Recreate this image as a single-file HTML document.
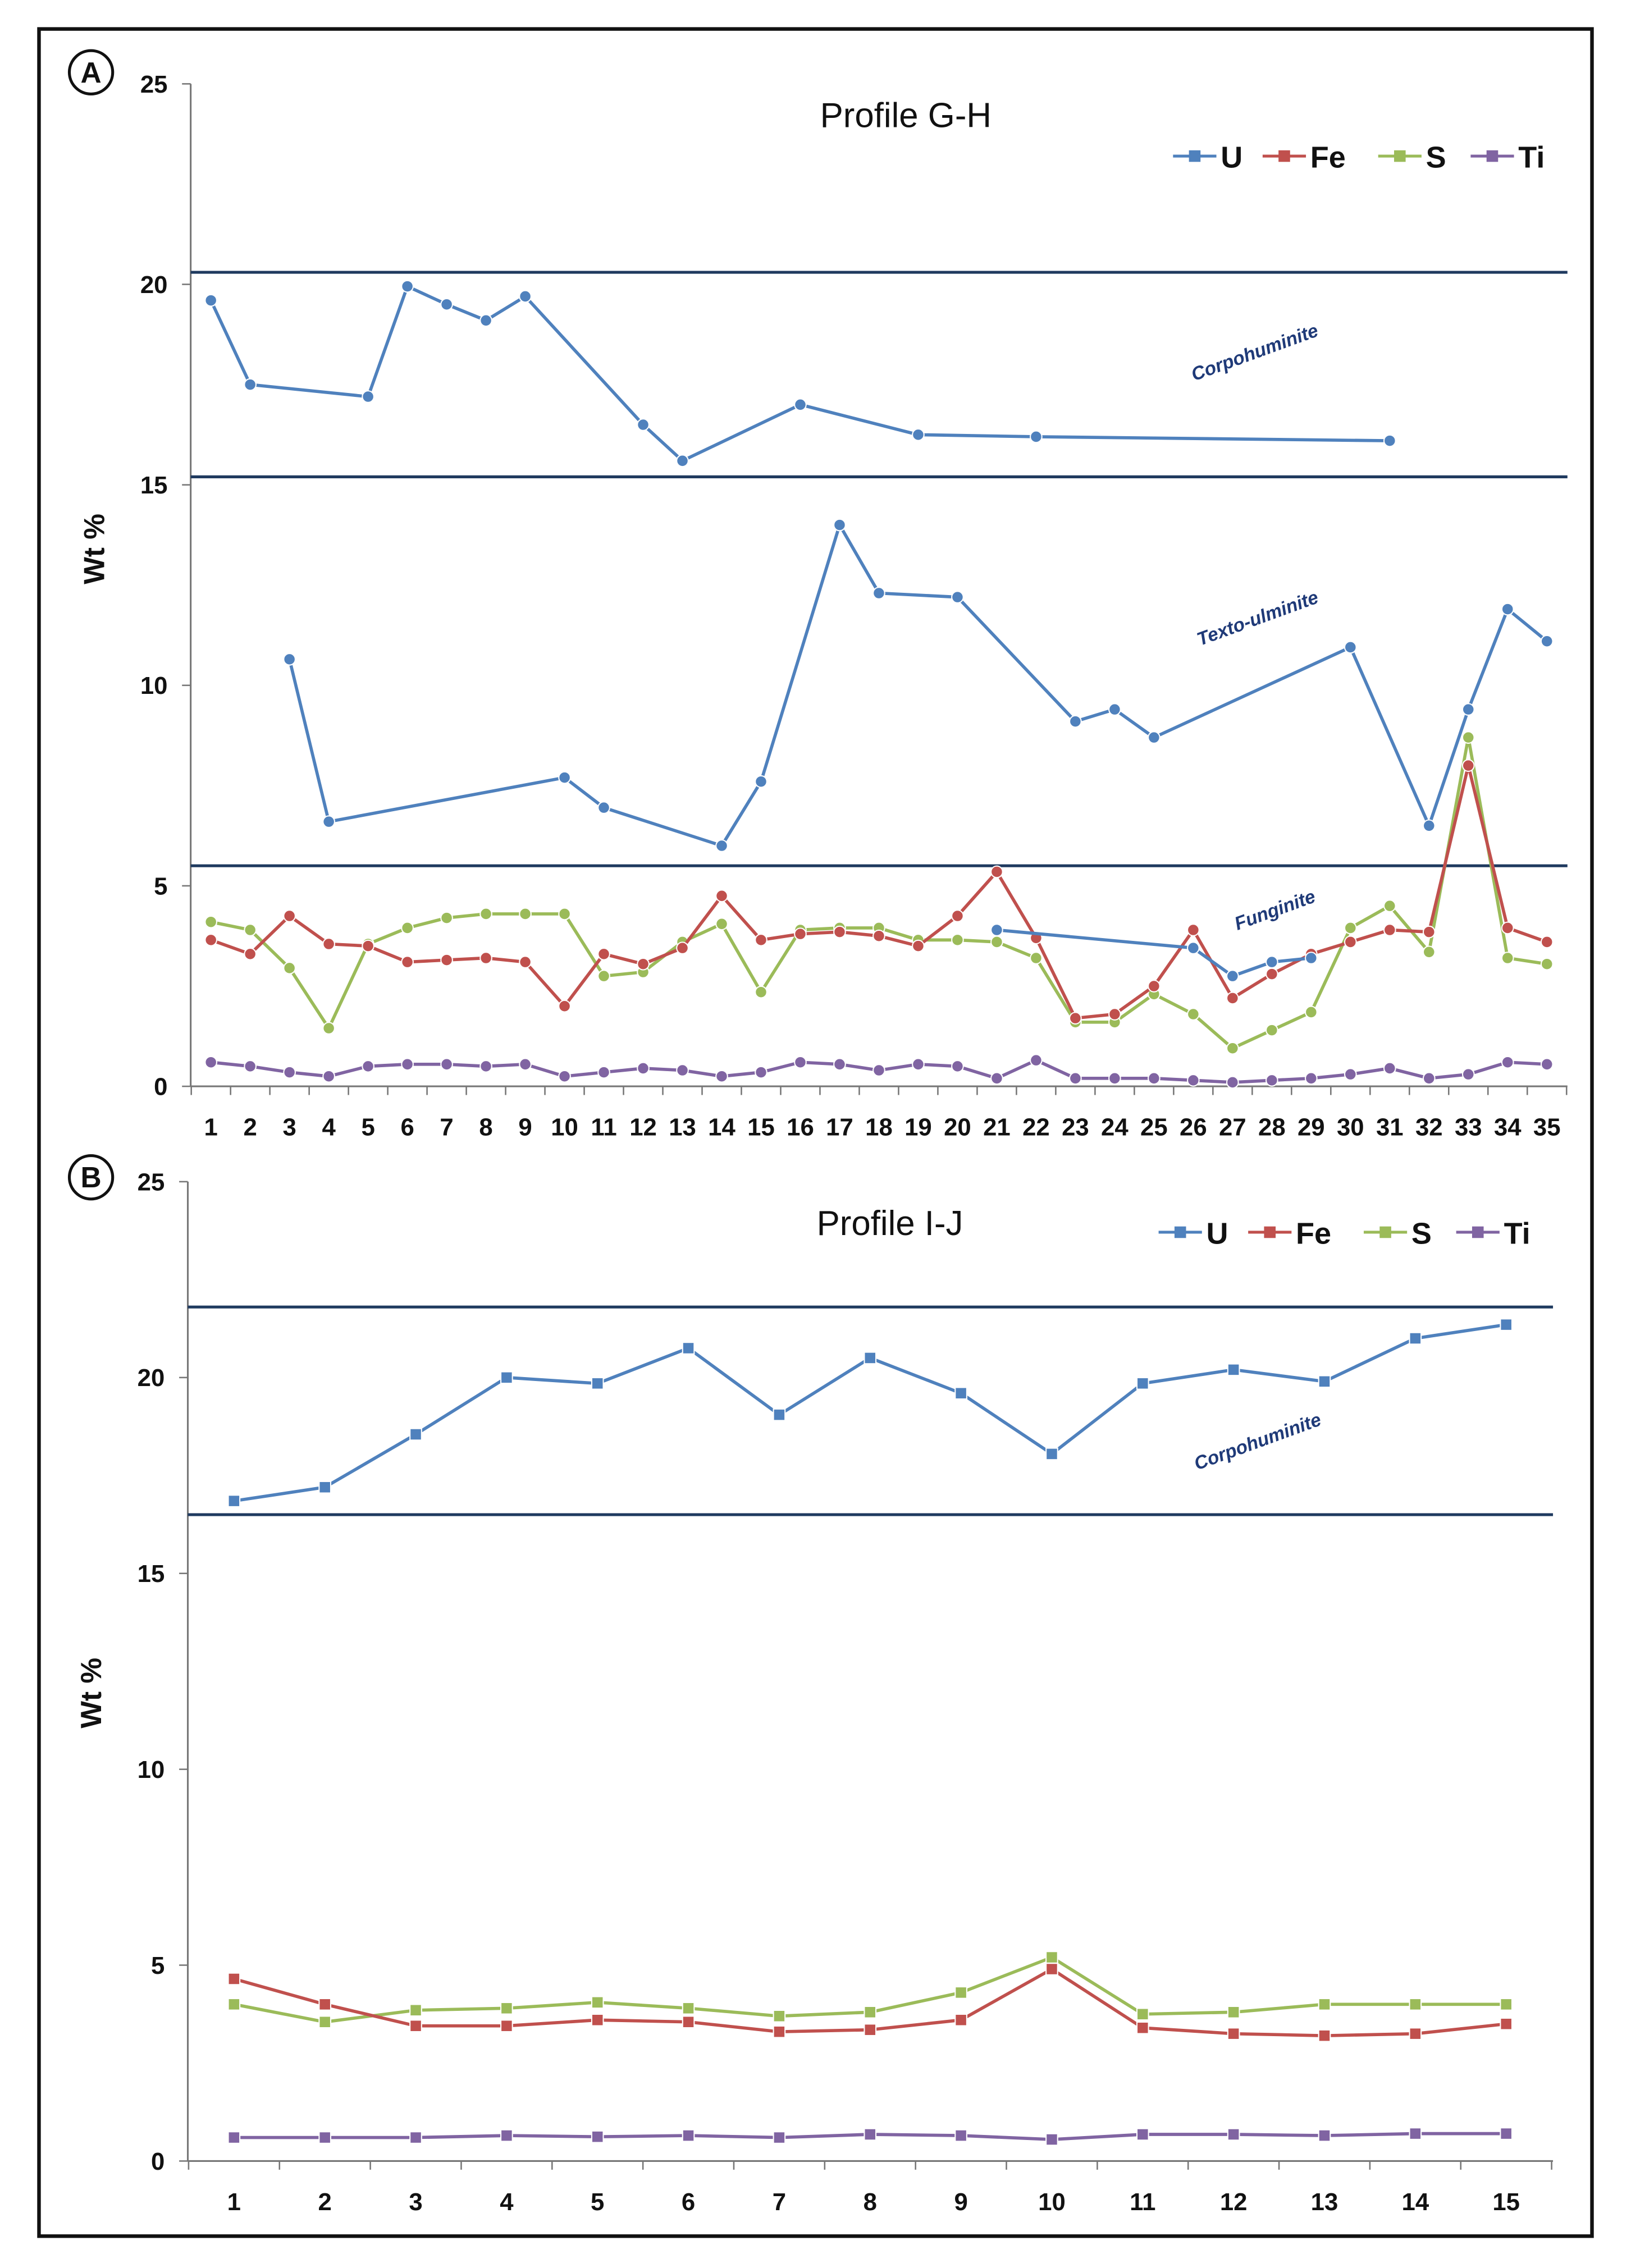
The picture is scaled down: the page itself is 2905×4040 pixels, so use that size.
<!DOCTYPE html>
<html><head><meta charset="utf-8"><style>
html,body{margin:0;padding:0;background:#fff;width:2905px;height:4040px;overflow:hidden}
svg{display:block}
text{font-family:"Liberation Sans",sans-serif}
</style></head><body>
<svg id="s" width="2905" height="4040" viewBox="0 0 1129 1570" xmlns="http://www.w3.org/2000/svg">
<rect x="27" y="20" width="1075" height="1528" fill="#fff" stroke="#111" stroke-width="2.5"/>
</svg>
<script>
const catsA=[1,2,3,4,5,6,7,8,9,10,11,12,13,14,15,16,17,18,19,20,21,22,23,24,25,26,27,28,29,30,31,32,33,34,35];
const uCorpoA=[[1,19.6],[2,17.5],[5,17.2],[6,19.95],[7,19.5],[8,19.1],[9,19.7],[12,16.5],[13,15.6],[16,17.0],[19,16.25],[22,16.2],[31,16.1]];
const uTextoA=[[3,10.65],[4,6.6],[10,7.7],[11,6.95],[14,6.0],[15,7.6],[17,14.0],[18,12.3],[20,12.2],[23,9.1],[24,9.4],[25,8.7],[30,10.95],[32,6.5],[33,9.4],[34,11.9],[35,11.1]];
const uFungA=[[21,3.9],[26,3.45],[27,2.75],[28,3.1],[29,3.2]];
const feA=[3.65,3.3,4.25,3.55,3.5,3.1,3.15,3.2,3.1,2.0,3.3,3.05,3.45,4.75,3.65,3.8,3.85,3.75,3.5,4.25,5.35,3.7,1.7,1.8,2.5,3.9,2.2,2.8,3.3,3.6,3.9,3.85,8.0,3.95,3.6];
const sA=[4.1,3.9,2.95,1.45,3.55,3.95,4.2,4.3,4.3,4.3,2.75,2.85,3.6,4.05,2.35,3.9,3.95,3.95,3.65,3.65,3.6,3.2,1.6,1.6,2.3,1.8,0.95,1.4,1.85,3.95,4.5,3.35,8.7,3.2,3.05];
const tiA=[0.6,0.5,0.35,0.25,0.5,0.55,0.55,0.5,0.55,0.25,0.35,0.45,0.4,0.25,0.35,0.6,0.55,0.4,0.55,0.5,0.2,0.65,0.2,0.2,0.2,0.15,0.1,0.15,0.2,0.3,0.45,0.2,0.3,0.6,0.55];
const refLinesA=[20.3,15.2,5.5];
const catsB=[1,2,3,4,5,6,7,8,9,10,11,12,13,14,15];
const uB=[16.85,17.2,18.55,20.0,19.85,20.75,19.05,20.5,19.6,18.05,19.85,20.2,19.9,21.0,21.35];
const feB=[4.65,4.0,3.45,3.45,3.6,3.55,3.3,3.35,3.6,4.9,3.4,3.25,3.2,3.25,3.5];
const sB=[4.0,3.55,3.85,3.9,4.05,3.9,3.7,3.8,4.3,5.2,3.75,3.8,4.0,4.0,4.0];
const tiB=[0.6,0.6,0.6,0.65,0.62,0.65,0.6,0.68,0.65,0.55,0.68,0.68,0.65,0.7,0.7];
const refLinesB=[21.8,16.5];
const yTicks=[0,5,10,15,20,25];

const NS='http://www.w3.org/2000/svg';
const svg=document.getElementById('s');
function el(t,a,p){const e=document.createElementNS(NS,t);for(const k in a)e.setAttribute(k,a[k]);(p||svg).appendChild(e);return e;}
const C={U:'#4f81bd',Fe:'#c0504d',S:'#9bbb59',Ti:'#8064a2'};

function chart(o){
  const g=el('g',{});
  
  
  const y=v=>o.y0-(o.y0-o.y25)*v/25;
  const x=c=>o.x1+(c-1)*o.dx;
  // axes
  const ax=el('line',{x1:o.ax,y1:o.y25,x2:o.ax,y2:o.y0,stroke:'#777','stroke-width':1.2},g);
  
  const bx=el('line',{x1:o.ax,y1:o.y0,x2:o.xe,y2:o.y0,stroke:'#777','stroke-width':1.2},g);
  
  yTicks.forEach(v=>{
    el('line',{x1:o.ax-6,y1:y(v),x2:o.ax,y2:y(v),stroke:'#777'},g);
    const t=el('text',{x:o.ax-16,y:y(v)+6,'text-anchor':'end','font-size':17,'font-weight':'bold',fill:'#111'},g);
    t.textContent=v;
    
  });
  o.cats.forEach((c,i)=>{
    el('line',{x1:x(c)+o.dx/2,y1:o.y0,x2:x(c)+o.dx/2,y2:o.y0+6,stroke:'#777'},g);
    if(i==0)el('line',{x1:x(c)-o.dx/2,y1:o.y0,x2:x(c)-o.dx/2,y2:o.y0+6,stroke:'#777'},g);
    const t=el('text',{x:x(c),y:o.y0+34,'text-anchor':'middle','font-size':17,'font-weight':'bold',fill:'#111'},g);
    t.textContent=c;
    
  });
  const yt=el('text',{x:0,y:0,transform:`translate(${o.ax-60},${o.ytY}) rotate(-90)`,'text-anchor':'middle','font-size':20,'font-weight':'bold',fill:'#111'},g);
  yt.textContent='Wt %';
  o.refs.forEach(v=>{
    const l=el('line',{x1:o.ax,y1:y(v),x2:o.xe,y2:y(v),stroke:'#1f3a5f','stroke-width':2},g);
    
  });
  function series(pts,col,name){
    const sg=el('g',{},g);
    
    el('polyline',{points:pts.map(p=>x(p[0])+','+y(p[1])).join(' '),fill:'none',stroke:col,'stroke-width':2.2},sg);
    pts.forEach(p=>{
      let m;
      if(o.sq) m=el('rect',{x:x(p[0])-4,y:y(p[1])-4,width:8,height:8,fill:col,stroke:'#fff','stroke-width':0.8},sg);
      else m=el('circle',{cx:x(p[0]),cy:y(p[1]),r:4,fill:col,stroke:'#fff','stroke-width':0.8},sg);
      
    });
  }
  const z=a=>a.map((v,i)=>[o.cats[i],v]);
  series(z(o.ti),C.Ti,'ti-series');
  series(z(o.s),C.S,'s-series');
  series(z(o.fe),C.Fe,'fe-series');
  o.u.forEach((u,i)=>series(u,C.U,'u-series-'+(i+1)));
  // labels
  o.labels.forEach(l=>{
    const t=el('text',{x:0,y:0,transform:`translate(${l[1]},${l[2]}) rotate(-20)`,'text-anchor':'middle','font-size':13,'font-weight':'bold','font-style':'italic',fill:'#1f3a78'},g);
    t.textContent=l[0];
  });
  const ti=el('text',{x:o.tx,y:o.ty,'text-anchor':'middle','font-size':24,fill:'#111'},g);
  ti.textContent=o.title;
  // legend
  const lg=el('g',{},g);
  [['U',0],['Fe',62],['S',142],['Ti',206]].forEach(([k,dx])=>{
    const e=el('g',{},lg);
    const lx=o.lx+dx;
    el('line',{x1:lx,y1:o.ly,x2:lx+30,y2:o.ly,stroke:C[k],'stroke-width':2},e);
    el('rect',{x:lx+11,y:o.ly-4,width:8,height:8,fill:C[k]},e);
    const t=el('text',{x:lx+33,y:o.ly+8,'font-size':21,'font-weight':'bold',fill:'#111'},e);t.textContent=k;
  });
  // panel badge
  const b=el('g',{},g);
  el('circle',{cx:63,cy:o.by,r:15,fill:'#fff',stroke:'#111','stroke-width':2},b);
  const bt=el('text',{x:63,y:o.by+7,'text-anchor':'middle','font-size':20,'font-weight':'bold',fill:'#111'},b);bt.textContent=o.badge;
}
chart({name:'chart-profile-g-h',cats:catsA,y25:58,y0:752,ax:132,xe:1085,x1:146,dx:27.2,refs:refLinesA,
  u:[uCorpoA,uTextoA,uFungA],fe:feA,s:sA,ti:tiA,sq:false,ytY:380,
  labels:[['Corpohuminite',870,248],['Texto-ulminite',872,432],['Funginite',884,634]],
  title:'Profile G-H',tx:627,ty:88,lx:812,ly:108,badge:'A',by:50});
chart({name:'chart-profile-i-j',cats:catsB,y25:818,y0:1496,ax:130,xe:1075,x1:162,dx:62.9,refs:refLinesB,
  u:[uB.map((v,i)=>[catsB[i],v])],fe:feB,s:sB,ti:tiB,sq:true,ytY:1172,
  labels:[['Corpohuminite',872,1002]],
  title:'Profile I-J',tx:616,ty:855,lx:802,ly:853,badge:'B',by:815});
</script>
</body></html>
